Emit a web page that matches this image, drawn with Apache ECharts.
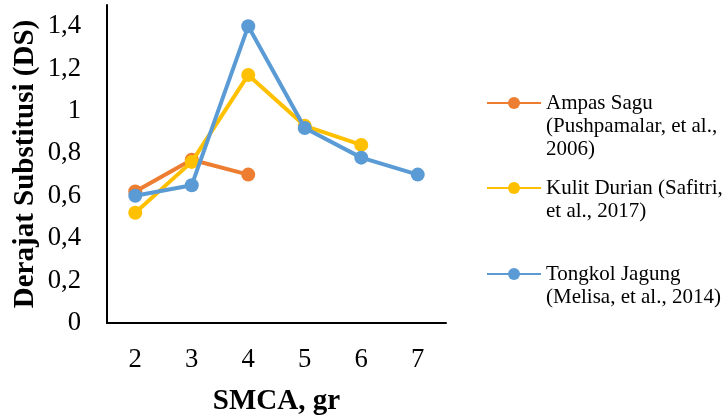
<!DOCTYPE html>
<html>
<head>
<meta charset="utf-8">
<script src="https://cdn.jsdelivr.net/npm/echarts@6/dist/echarts.min.js"></script>
<style>html,body{margin:0;padding:0;background:#fff;}#c{width:726px;height:416px;}</style>
</head>
<body>
<div id="c"></div>
<script>
var categories = ['2', '3', '4', '5', '6', '7'];
var ampasSagu = [0.62, 0.77, 0.70, null, null, null];
var kulitDurian = [0.52, 0.76, 1.17, 0.93, 0.84, null];
var tongkolJagung = [0.60, 0.65, 1.40, 0.92, 0.78, 0.70];
var seriesNames = [
  'Ampas Sagu\n(Pushpamalar, et al.,\n2006)',
  'Kulit Durian (Safitri,\net al., 2017)',
  'Tongkol Jagung\n(Melisa, et al., 2014)'
];
var seriesData = [ampasSagu, kulitDurian, tongkolJagung];
var colors = ['#ED7D31', '#FFC000', '#5B9BD5'];

var FONT = "'Liberation Serif', 'Times New Roman', serif";
var LH = 23;
var markerY = [103, 188, 274];

var chart = echarts.init(document.getElementById('c'), null, {renderer: 'canvas'});

var legends = seriesNames.map(function (n, i) {
  var lines = n.split('\n').length;
  return {
    data: [n],
    orient: 'vertical',
    left: 486,
    top: markerY[i] - (2 * lines - 1) * LH / 2,
    padding: 0,
    itemWidth: 54,
    itemHeight: 15,
    itemGap: 0,
    formatter: function (name) {
      var k = name.split('\n').length - 1;
      var pre = '';
      for (var j = 0; j < k; j++) pre += ' \n';
      return pre + name;
    },
    textStyle: {
      fontFamily: FONT, fontSize: 21, color: '#000', lineHeight: LH
    }
  };
});

var option = {
  animation: false,
  color: colors,
  legend: legends,
  grid: {left: 107, right: 280, top: 5, bottom: 93, containLabel: false, outerBoundsMode: 'none'},
  xAxis: {
    type: 'category',
    data: categories,
    boundaryGap: true,
    name: 'SMCA, gr',
    nameLocation: 'middle',
    nameGap: 64,
    nameTextStyle: {fontFamily: FONT, fontSize: 29, fontWeight: 'bold', color: '#000'},
    axisLine: {lineStyle: {color: '#000', width: 2}},
    axisTick: {show: false},
    axisLabel: {fontFamily: FONT, fontSize: 26.7, color: '#000', margin: 23},
    splitLine: {show: false}
  },
  yAxis: {
    type: 'value',
    min: 0,
    max: 1.5,
    interval: 0.2,
    name: 'Derajat Substitusi (DS)',
    nameLocation: 'middle',
    nameGap: 67,
    nameTextStyle: {fontFamily: FONT, fontSize: 29, fontWeight: 'bold', color: '#000'},
    axisLine: {show: true, lineStyle: {color: '#000', width: 2}},
    axisTick: {show: false},
    axisLabel: {
      fontFamily: FONT, fontSize: 26.7, color: '#000', margin: 26,
      showMaxLabel: false,
      formatter: function (v) { return String(Math.round(v * 10) / 10).replace('.', ','); }
    },
    splitLine: {show: false}
  },
  series: seriesNames.map(function (n, i) {
    return {
      name: n,
      type: 'line',
      data: seriesData[i],
      symbol: 'circle',
      symbolSize: 14,
      showSymbol: true,
      connectNulls: false,
      lineStyle: {width: 4, color: colors[i]},
      itemStyle: {color: colors[i]},
      z: 2 + i
    };
  })
};
chart.setOption(option);
</script>
</body>
</html>
